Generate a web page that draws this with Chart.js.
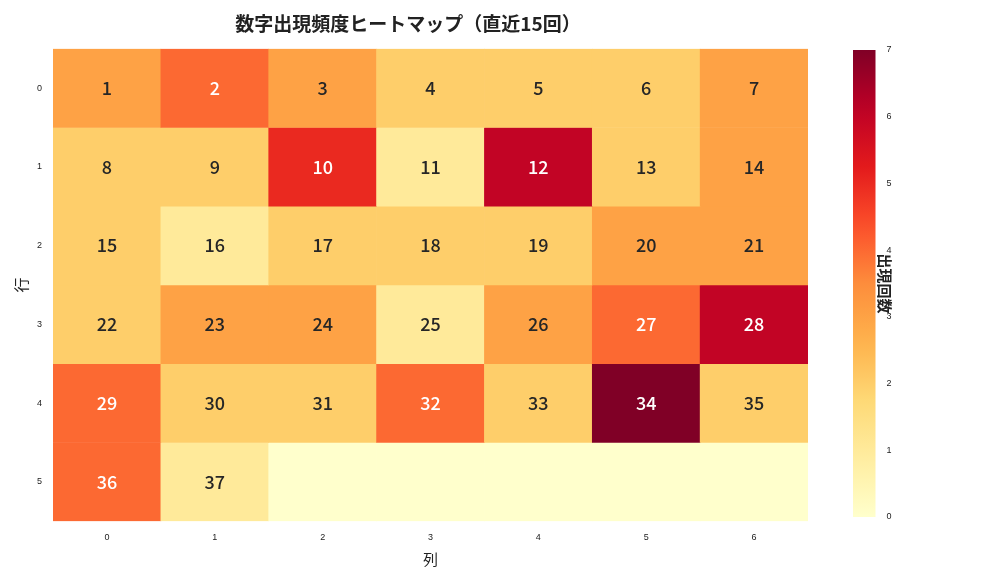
<!DOCTYPE html>
<html><head><meta charset="utf-8">
<script src="https://cdn.jsdelivr.net/npm/chart.js@4/dist/chart.umd.min.js"></script>
<style>body{margin:0;background:#fff;font-family:"Noto Sans CJK JP","Noto Sans",sans-serif}
#a{position:absolute;left:0;top:0;width:830px;height:576px}
#b{position:absolute;left:838px;top:0;width:120px;height:576px}</style>
</head><body>
<div id="a"><canvas id="c1"></canvas></div>
<div id="b"><canvas id="c2"></canvas></div>
<script>
const cols=['0','1','2','3','4','5','6'];
const rows=['0','1','2','3','4','5'];
const counts=[
 [3,4,3,2,2,2,3],
 [2,2,5,1,6,2,3],
 [2,1,2,2,2,3,3],
 [2,3,3,1,3,4,6],
 [4,2,2,4,2,7,2],
 [4,1,0,0,0,0,0]];
const numbers=[
 [1,2,3,4,5,6,7],[8,9,10,11,12,13,14],[15,16,17,18,19,20,21],
 [22,23,24,25,26,27,28],[29,30,31,32,33,34,35],[36,37,null,null,null,null,null]];
const vmax=7;
const stops=['#ffffcc','#ffeda0','#fed976','#feb24c','#fd8d3c','#fc4e2a','#e31a1c','#bd0026','#800026'];
function hex(h){return [1,3,5].map(i=>parseInt(h.substr(i,2),16));}
function cmap(t){t=Math.max(0,Math.min(1,t));const p=t*8,i=Math.min(7,Math.floor(p)),f=p-i;const a=hex(stops[i]),b=hex(stops[i+1]);
 return 'rgb('+a.map((v,k)=>Math.round(v+(b[k]-v)*f)).join(',')+')';}
const font='"Noto Sans CJK JP","Noto Sans",sans-serif';
const datasets=rows.map((r,ri)=>({label:r,data:cols.map(()=>[ri,ri+1]),
 backgroundColor:counts[ri].map(v=>cmap(v/vmax)),borderWidth:0,barPercentage:1,categoryPercentage:1,grouped:false}));
const labelPlugin={id:'lbl',afterDatasetsDraw(ch){const ctx=ch.ctx;ctx.save();ctx.textAlign='center';ctx.textBaseline='middle';
 ctx.font='500 18px '+font;
 ch.data.datasets.forEach((ds,ri)=>{ch.getDatasetMeta(ri).data.forEach((el,ci)=>{const n=numbers[ri][ci];if(n==null)return;
  const p=el.getCenterPoint();ctx.fillStyle=counts[ri][ci]>=4?'#fff':'#262626';ctx.fillText(String(n),p.x,p.y);});});ctx.restore();}};
new Chart(document.getElementById('c1'),{type:'bar',data:{labels:cols,datasets},
 options:{responsive:true,maintainAspectRatio:false,animation:false,
 layout:{padding:{left:8,right:22,top:2,bottom:4}},
 plugins:{legend:{display:false},tooltip:{enabled:false},
  title:{display:true,text:'数字出現頻度ヒートマップ（直近15回）',font:{family:font,size:19,weight:'bold'},color:'#222',padding:{top:10,bottom:14}}},
 scales:{x:{grid:{display:false},border:{display:false},ticks:{font:{size:9},color:'#222'},
   title:{display:true,text:'列',font:{family:font,size:15},color:'#222',padding:{top:4}}},
  y:{type:'linear',min:0,max:6,reverse:true,grid:{display:false},border:{display:false},
   afterBuildTicks(ax){ax.ticks=rows.map((r,i)=>({value:i+0.5}));},
   ticks:{font:{size:9},color:'#222',callback:(v)=>rows[Math.floor(v)]},
   title:{display:true,text:'行',font:{family:font,size:15},color:'#222'}}}},
 plugins:[labelPlugin]});
const gradPlugin={id:'grad',beforeDatasetsDraw(ch){const a=ch.chartArea,ctx=ch.ctx;const g=ctx.createLinearGradient(0,a.bottom,0,a.top);
 for(let i=0;i<=20;i++)g.addColorStop(i/20,cmap(i/20));ctx.fillStyle=g;ctx.fillRect(a.left,a.top,a.right-a.left,a.bottom-a.top);}};
new Chart(document.getElementById('c2'),{type:'bar',data:{labels:['c'],datasets:[{data:[0]}]},
 options:{responsive:true,maintainAspectRatio:false,animation:false,
 layout:{padding:{left:15,right:60,top:50,bottom:59}},
 plugins:{legend:{display:false},tooltip:{enabled:false}},
 scales:{x:{display:false},
  y:{position:'right',min:0,max:7,grid:{display:false,drawTicks:true},border:{display:false},
   ticks:{stepSize:1,font:{size:9},color:'#222'},
   title:{display:true,text:'出現回数',font:{family:font,size:15,weight:'bold'},color:'#222'}}}},
 plugins:[gradPlugin]});
</script></body></html>
